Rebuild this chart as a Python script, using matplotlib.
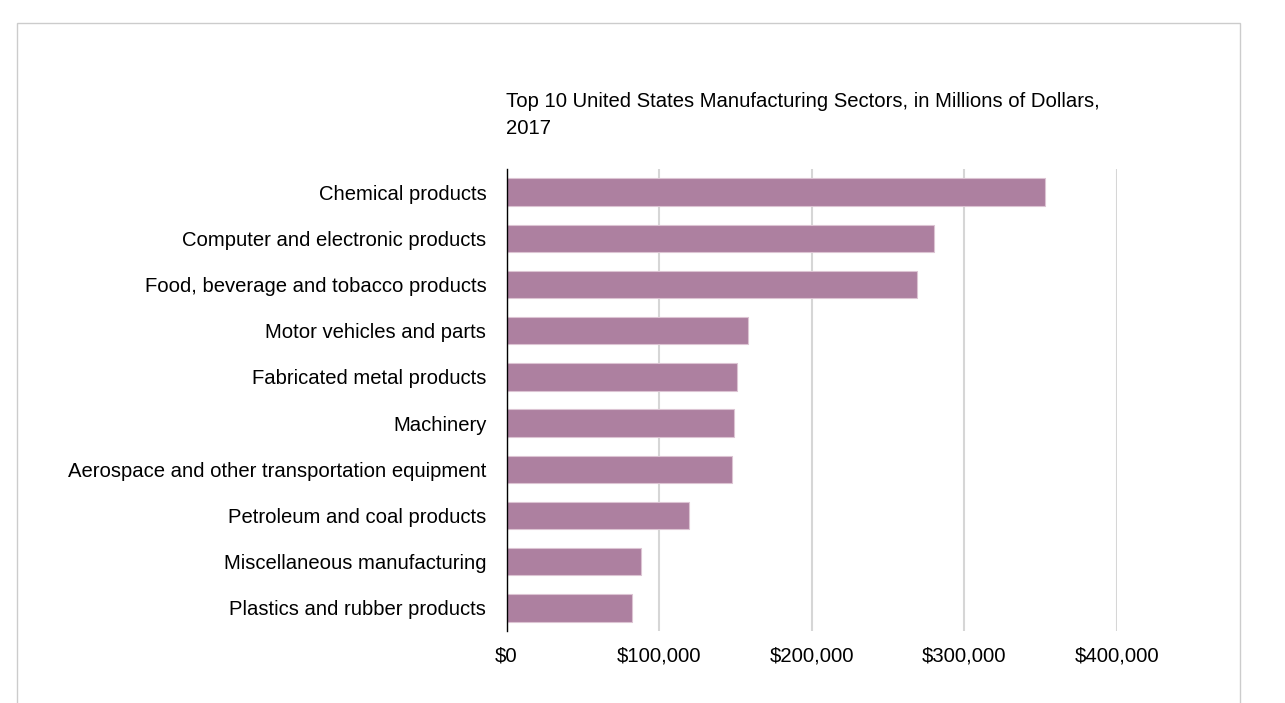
import matplotlib.pyplot as plt
from matplotlib.patches import Rectangle
from matplotlib.ticker import FuncFormatter

sectors = [
    "Chemical products",
    "Computer and electronic products",
    "Food, beverage and tobacco products",
    "Motor vehicles and parts",
    "Fabricated metal products",
    "Machinery",
    "Aerospace and other transportation equipment",
    "Petroleum and coal products",
    "Miscellaneous manufacturing",
    "Plastics and rubber products",
]
values = [353100, 280200, 268800, 158200, 150800, 149300, 147600, 119900, 87800, 82300]
x_ticks = [0, 100000, 200000, 300000, 400000]

plt.rcParams["font.family"] = ["Liberation Sans", "DejaVu Sans"]

fig = plt.figure(figsize=(12.85, 7.03), dpi=100, facecolor="white")

# light frame around the chart
fig.patches.append(Rectangle((17 / 1285, -0.01), 1223 / 1285, 1 - 23 / 703 + 0.01,
                             transform=fig.transFigure, facecolor="none",
                             edgecolor="#cccccc", linewidth=1.0))

ax = fig.add_axes([506.5 / 1285, 1 - 631 / 703, (1117 - 506.5) / 1285, (631 - 169) / 703])

y = list(range(len(sectors)))
ax.barh(y, values, height=0.59, color="#ad80a0", edgecolor="#dcc4d3", linewidth=0.8, zorder=2)

ax.set_ylim(len(sectors) - 0.5, -0.5)
ax.set_xlim(0, 400000)
ax.set_yticks(y)
ax.set_yticklabels(sectors, fontsize=14.6)
ax.set_xticks(x_ticks)
ax.xaxis.set_major_formatter(FuncFormatter(lambda v, _: f"${v:,.0f}"))
ax.tick_params(axis="x", length=0, pad=11.5, labelsize=14.6)
ax.tick_params(axis="y", length=0, pad=14.5)
ax.grid(axis="x", color="#d6d6d6", linewidth=1.5, zorder=0)
ax.set_axisbelow(True)
for side in ["top", "right", "bottom"]:
    ax.spines[side].set_visible(False)
ax.spines["left"].set_color("black")
ax.spines["left"].set_linewidth(1.0)
ax.spines["left"].set_zorder(3)

fig.text(506 / 1285, 1 - 92 / 703, "Top 10 United States Manufacturing Sectors, in Millions of Dollars,\n2017",
         fontsize=14.6, ha="left", va="top", linespacing=1.55, color="black")

fig.savefig("out.png", dpi=100, facecolor="white")
